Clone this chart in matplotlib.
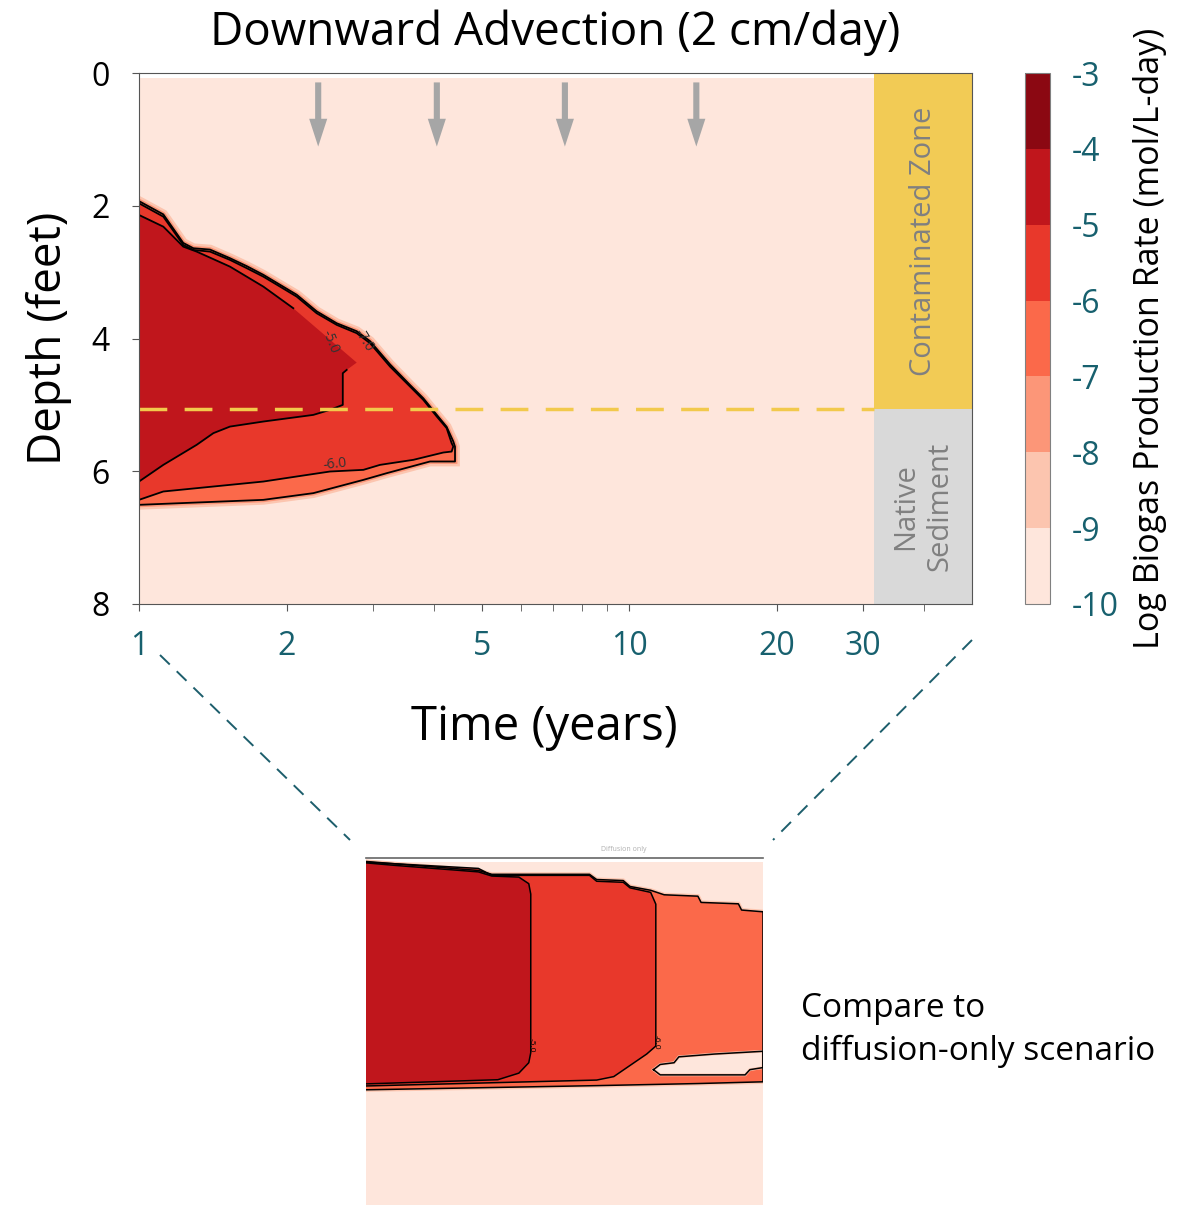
import numpy as np
import matplotlib.pyplot as plt
from matplotlib.colors import ListedColormap, BoundaryNorm
from matplotlib.cm import ScalarMappable
from matplotlib.lines import Line2D
from matplotlib.patches import Rectangle
from matplotlib.ticker import FixedLocator, NullFormatter

plt.rcParams['font.family'] = ['Open Sans', 'DejaVu Sans']
plt.rcParams['axes.unicode_minus'] = False

# Colour bands of log biogas production rate
levels = [-10, -9, -8, -7, -6, -5, -4, -3]
level_colors = ['#fee6dc', '#fcc5af', '#fc9678', '#fb694a',
                '#e8382b', '#c0161c', '#8b0812']
teal = '#17606e'

# Downward advection run: outline of each band (time in years, depth in feet)
band7_t = [1.0, 1.121, 1.231, 1.291, 1.396, 1.533, 1.659, 1.793, 1.939,
           2.097, 2.303, 2.531, 2.780, 2.960, 3.251, 3.571, 3.801, 4.049,
           4.241, 4.375, 4.411, 4.411, 3.922, 3.201, 2.868, 2.267, 1.793,
           1.311, 1.0]
band7_d = [1.93, 2.13, 2.56, 2.64, 2.66, 2.79, 2.91, 3.04, 3.19,
           3.34, 3.59, 3.77, 3.89, 4.04, 4.39, 4.70, 4.90, 5.15,
           5.33, 5.55, 5.63, 5.853, 5.853, 6.029, 6.130, 6.330, 6.431,
           6.471, 6.506]

band6_t = [1.0, 1.121, 1.231, 1.291, 1.396, 1.533, 1.659, 1.793, 1.939,
           2.097, 2.303, 2.531, 2.780, 2.960, 3.251, 3.571, 3.801, 4.049,
           4.241, 4.342, 4.375, 4.342, 4.174, 3.627, 3.101, 2.868, 2.452,
           2.097, 1.793, 1.418, 1.121, 1.0]
band6_d = [1.963, 2.164, 2.590, 2.666, 2.691, 2.816, 2.941, 3.068, 3.218,
           3.369, 3.619, 3.795, 3.920, 4.071, 4.423, 4.724, 4.925, 5.176,
           5.351, 5.577, 5.627, 5.703, 5.718, 5.828, 5.904, 5.979, 6.004,
           6.079, 6.155, 6.230, 6.305, 6.431]

band5_t = [1.0, 1.121, 1.231, 1.311, 1.533, 1.793, 2.064, 2.780, 2.652,
           2.604, 2.604, 2.452, 2.267, 1.793, 1.533, 1.418, 1.311, 1.121, 1.0]
band5_d = [2.139, 2.315, 2.616, 2.691, 2.917, 3.218, 3.544, 4.363, 4.473,
           4.523, 5.000, 5.075, 5.151, 5.251, 5.327, 5.426, 5.602, 5.904, 6.155]

# Site layout
zone_start = 31.6      # years, start of the zone annotation column
t_end = 50.0
interface_depth = 5.06
depth_max = 8.0
arrow_t = [2.32, 4.05, 7.39, 13.7]

# Diffusion-only run (inset, normalised time / depth)
inset7_x = [0.0, 0.283, 0.317, 0.563, 0.581, 0.648, 0.665, 0.717, 0.751,
            0.836, 0.844, 0.938, 0.946, 1.0, 1.0, 0.836, 0.581, 0.0]
inset7_y = [0.010, 0.036, 0.047, 0.047, 0.062, 0.065, 0.082, 0.093, 0.106,
            0.110, 0.128, 0.132, 0.150, 0.155, 0.645, 0.650, 0.656, 0.668]
inset6_x = [0.0, 0.283, 0.317, 0.563, 0.581, 0.648, 0.665, 0.717, 0.730,
            0.730, 0.707, 0.624, 0.581, 0.0]
inset6_y = [0.012, 0.030, 0.050, 0.050, 0.067, 0.070, 0.086, 0.099, 0.133,
            0.542, 0.565, 0.630, 0.640, 0.657]
inset5_x = [0.0, 0.070, 0.283, 0.317, 0.385, 0.410, 0.415, 0.415, 0.410,
            0.385, 0.332, 0.0]
inset5_y = [0.014, 0.021, 0.040, 0.052, 0.055, 0.074, 0.104, 0.561, 0.590,
            0.620, 0.639, 0.651]
hole_x = [0.724, 0.741, 0.776, 0.788, 0.877, 1.0, 1.0, 0.967, 0.955, 0.741, 0.724]
hole_y = [0.610, 0.595, 0.590, 0.573, 0.565, 0.557, 0.604, 0.610, 0.625, 0.625, 0.610]

W, H = 1191, 1205
fig = plt.figure(figsize=(W / 100, H / 100), dpi=100)
ax = fig.add_axes([139 / W, 1 - 604 / H, 833 / W, 531 / H])

# background band and plume
ax.fill_between([1.0, t_end], 0.07, depth_max, color=level_colors[0], lw=0)
ax.fill(band7_t, band7_d, facecolor=level_colors[1], edgecolor=level_colors[1], lw=7)
ax.fill(band7_t, band7_d, facecolor=level_colors[2], edgecolor=level_colors[2], lw=3.5)
ax.fill(band7_t, band7_d, color=level_colors[3], lw=0)
ax.fill(band6_t, band6_d, color=level_colors[4], lw=0)
ax.fill(band5_t, band5_d, color=level_colors[5], lw=0)
ax.plot(band7_t, band7_d, color='black', lw=1.3)
ax.plot(band6_t, band6_d, color='black', lw=1.3)
ax.plot(band5_t[:7], band5_d[:7], color='black', lw=1.3)
ax.plot(band5_t[8:], band5_d[8:], color='black', lw=1.3)
ax.text(2.45, 4.05, '-5.0', fontsize=10, rotation=-68, color='#333333',
        ha='center', va='center')
ax.text(2.88, 4.02, '-7.0', fontsize=10, rotation=-58, color='#333333',
        ha='center', va='center')
ax.text(2.51, 5.90, '-6.0', fontsize=10, rotation=6, color='#333333',
        ha='center', va='center')

ax.plot([1.0, zone_start], [interface_depth, interface_depth], color='#f2c94c',
        lw=2.5, dashes=(8, 5))

ax.add_patch(Rectangle((zone_start, 0), t_end - zone_start, interface_depth,
                       color='#f2cb55', lw=0))
ax.add_patch(Rectangle((zone_start, interface_depth), t_end - zone_start,
                       depth_max - interface_depth, color='#d9d9d9', lw=0))
zone_mid = np.sqrt(zone_start * t_end)
ax.text(zone_mid, interface_depth / 2, 'Contaminated Zone', rotation=90,
        fontsize=21, color='#808080', ha='center', va='center')
ax.text(zone_mid, (interface_depth + depth_max) / 2, 'Native\nSediment',
        rotation=90, fontsize=21, color='#808080', ha='center', va='center',
        linespacing=1.25)

for t in arrow_t:
    ax.annotate('', xy=(t, 1.15), xytext=(t, 0.1),
                arrowprops=dict(arrowstyle='simple,head_length=1.0,head_width=0.65,tail_width=0.22',
                                color='#a6a6a6', lw=0, mutation_scale=20))

ax.set_xscale('log')
ax.set_xlim(1, t_end)
ax.set_ylim(depth_max, 0)
ax.xaxis.set_major_locator(FixedLocator([1, 2, 5, 10, 20, 30]))
ax.xaxis.set_minor_locator(FixedLocator([3, 4, 6, 7, 8, 9, 40]))
ax.xaxis.set_minor_formatter(NullFormatter())
ax.set_xticklabels(['1', '2', '5', '10', '20', '30'])
ax.set_yticks([0, 2, 4, 6, 8])
ax.set_yticklabels(['0', '2', '4', '6', '8'])
ax.tick_params(axis='x', which='both', length=5, pad=14, labelsize=23,
               labelcolor=teal, color='#555555')
ax.tick_params(axis='y', length=5, pad=16, labelsize=23, color='#555555')
for s in ax.spines.values():
    s.set_color('#555555')
ax.set_xlabel('Time (years)', fontsize=34)
ax.xaxis.set_label_coords(0.486, -0.188)
ax.set_ylabel('Depth (feet)', fontsize=33, labelpad=14)
ax.set_title('Downward Advection (2 cm/day)', fontsize=33, pad=20)

# colour bar
cax = fig.add_axes([1025 / W, 1 - 604 / H, 25 / W, 531 / H])
sm = ScalarMappable(norm=BoundaryNorm(levels, len(level_colors)),
                    cmap=ListedColormap(level_colors))
cb = fig.colorbar(sm, cax=cax, ticks=levels)
cb.ax.set_yticklabels([str(v) for v in levels])
cb.ax.tick_params(length=0, labelsize=23, labelcolor=teal, pad=16)
cb.outline.set_edgecolor('#808080')
cb.set_label('Log Biogas Production Rate (mol/L-day)', fontsize=24.5, labelpad=10)

# inset: diffusion-only scenario
iax = fig.add_axes([366 / W, 0, 397 / W, 347 / H])
iax.fill_between([0, 1], 0.012, 1, color=level_colors[0], lw=0)
iax.fill(inset7_x, inset7_y, facecolor=level_colors[2], edgecolor=level_colors[1], lw=3)
iax.fill(inset7_x, inset7_y, color=level_colors[3], lw=0)
iax.fill(inset6_x, inset6_y, color=level_colors[4], lw=0)
iax.fill(inset5_x, inset5_y, color=level_colors[5], lw=0)
iax.fill(hole_x, hole_y, facecolor=level_colors[0], edgecolor=level_colors[1], lw=2)
for xs, ys in [(inset7_x, inset7_y), (inset6_x, inset6_y), (inset5_x, inset5_y),
               (hole_x, hole_y)]:
    iax.plot(xs, ys, color='black', lw=1.1)
iax.text(0.415, 0.54, '-5.0', fontsize=6, rotation=-90, ha='center', va='center')
iax.text(0.730, 0.53, '-6.0', fontsize=6, rotation=-90, ha='center', va='center')
iax.text(0.65, -0.015, 'Diffusion only', fontsize=5, color='#b0b0b0',
         ha='center', va='bottom')
iax.set_xlim(0, 1)
iax.set_ylim(1, 0)
iax.set_xticks([])
iax.set_yticks([])
for side in ['left', 'right', 'bottom']:
    iax.spines[side].set_visible(False)
iax.spines['top'].set_color('#666666')
iax.spines['top'].set_linewidth(1.2)

# dashed connectors
for (x0, y0), (x1, y1) in [((160, 655), (350, 840)), ((972, 640), (773, 840))]:
    fig.add_artist(Line2D([x0 / W, x1 / W], [1 - y0 / H, 1 - y1 / H],
                          color='#1d5e6c', lw=1.4, dashes=(7, 5)))

fig.text(801 / W, 1 - 1030 / H, 'Compare to\ndiffusion-only scenario',
         fontsize=24, ha='left', va='center', linespacing=1.35)

fig.savefig('out.png', dpi=100)
